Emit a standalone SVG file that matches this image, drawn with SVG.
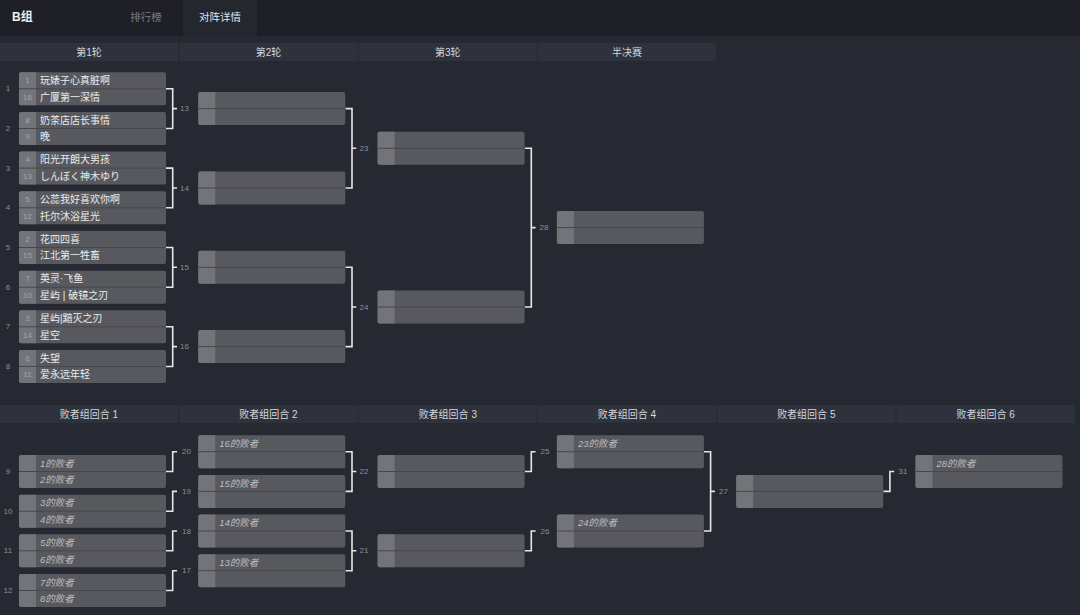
<svg xmlns="http://www.w3.org/2000/svg" width="1080" height="615" viewBox="0 0 1080 615">
<style>
text{font-family:"Liberation Sans","Noto Sans CJK SC",sans-serif}
.hd{fill:#2e323d}
.ht{fill:#d6d7db;font-size:10px;text-anchor:middle;dominant-baseline:central}
.slot{fill:#58595e}
.seed{fill:#737479}
.div{stroke:#46474c;stroke-width:1}
.sn{fill:#a4a5aa;font-size:8px;text-anchor:middle;dominant-baseline:central}
.nm{fill:#ececec;font-size:10px;dominant-baseline:central}
.ls{fill:#bdbec2;font-size:9.5px;font-style:italic;dominant-baseline:central}
.ml{fill:#8c8e96;font-size:8px;dominant-baseline:central}
.mlc{fill:#8c8e96;font-size:8px;text-anchor:middle;dominant-baseline:central}
.con{fill:none;stroke:#e6e6e6;stroke-width:1.6}
</style>
<defs>
<g id="box">
<rect x="0" y="0" width="147" height="33" rx="2" class="slot"/>
<path d="M2 0H17V33H2A2 2 0 0 1 0 31V2A2 2 0 0 1 2 0Z" class="seed"/>
<line x1="0" y1="16.5" x2="147" y2="16.5" class="div"/>
</g>
</defs>
<rect width="1080" height="615" fill="#262932"/>
<rect width="1080" height="36" fill="#1f2027"/>
<rect x="183" y="0" width="74" height="36" fill="#25272e"/>
<text x="12" y="17" fill="#f0f0f0" font-size="12" font-weight="bold" dominant-baseline="central">B组</text>
<text x="146" y="17" fill="#7a7b80" font-size="10.5" text-anchor="middle" dominant-baseline="central">排行榜</text>
<text x="220" y="17" fill="#e2e2e4" font-size="10.5" text-anchor="middle" dominant-baseline="central">对阵详情</text>

<g id="headers-upper">
<rect class="hd" x="0" y="43" width="178.3" height="18"/><text class="ht" x="89" y="52">第1轮</text>
<rect class="hd" x="179.3" y="43" width="178.3" height="18"/><text class="ht" x="268.5" y="52">第2轮</text>
<rect class="hd" x="358.6" y="43" width="178.3" height="18"/><text class="ht" x="447.8" y="52">第3轮</text>
<rect class="hd" x="537.9" y="43" width="178.3" height="18"/><text class="ht" x="627" y="52">半决赛</text>
</g>
<g id="headers-lower">
<rect class="hd" x="0" y="405" width="178.3" height="18"/><text class="ht" x="89" y="414">败者组回合 1</text>
<rect class="hd" x="179.3" y="405" width="178.3" height="18"/><text class="ht" x="268.5" y="414">败者组回合 2</text>
<rect class="hd" x="358.6" y="405" width="178.3" height="18"/><text class="ht" x="447.8" y="414">败者组回合 3</text>
<rect class="hd" x="537.9" y="405" width="178.3" height="18"/><text class="ht" x="627" y="414">败者组回合 4</text>
<rect class="hd" x="717.2" y="405" width="178.3" height="18"/><text class="ht" x="806.3" y="414">败者组回合 5</text>
<rect class="hd" x="896.5" y="405" width="178.3" height="18"/><text class="ht" x="985.6" y="414">败者组回合 6</text>
</g>

<g id="connectors">
<!-- upper R1 -> R2 -->
<path class="con" d="M166 88.8H172.7V128.5H166M172.7 108.6H177"/>
<path class="con" d="M166 168.1H172.7V207.8H166M172.7 188H177"/>
<path class="con" d="M166 247.5H172.7V287.2H166M172.7 267.3H177"/>
<path class="con" d="M166 326.8H172.7V366.5H166M172.7 346.6H177"/>
<!-- R2 -> R3 -->
<path class="con" d="M345.3 108.6H352V188H345.3M352 148.3H356.3"/>
<path class="con" d="M345.3 267.3H352V346.6H345.3M352 307H356.3"/>
<!-- R3 -> Semi -->
<path class="con" d="M524.6 148.3H531.3V307H524.6M531.3 227.6H535.6"/>
<!-- lower L1 -> L2 elbows -->
<path class="con" d="M166 471.5H172.7V451.7H177"/>
<path class="con" d="M166 511.2H172.7V491.4H177"/>
<path class="con" d="M166 550.8H172.7V531H177"/>
<path class="con" d="M166 590.5H172.7V570.7H177"/>
<!-- L2 -> L3 -->
<path class="con" d="M345.3 451.7H352V491.4H345.3M352 471.5H356.3"/>
<path class="con" d="M345.3 531H352V570.7H345.3M352 550.8H356.3"/>
<!-- L3 -> L4 elbows -->
<path class="con" d="M524.6 471.5H531.3V451.7H535.6"/>
<path class="con" d="M524.6 550.8H531.3V531H535.6"/>
<!-- L4 -> L5 -->
<path class="con" d="M703.9 451.7H710.6V531H703.9M710.6 491.4H714.9"/>
<!-- L5 -> L6 elbow -->
<path class="con" d="M883.2 491.4H889.9V471.5H894.2"/>
</g>

<g id="match-labels">
<text class="mlc" x="8" y="88.8">1</text>
<text class="mlc" x="8" y="128.5">2</text>
<text class="mlc" x="8" y="168.1">3</text>
<text class="mlc" x="8" y="207.8">4</text>
<text class="mlc" x="8" y="247.5">5</text>
<text class="mlc" x="8" y="287.2">6</text>
<text class="mlc" x="8" y="326.8">7</text>
<text class="mlc" x="8" y="366.5">8</text>
<text class="ml" x="180" y="108.6">13</text>
<text class="ml" x="180" y="188">14</text>
<text class="ml" x="180" y="267.3">15</text>
<text class="ml" x="180" y="346.6">16</text>
<text class="ml" x="359.5" y="148.3">23</text>
<text class="ml" x="359.5" y="307">24</text>
<text class="ml" x="539.5" y="227.6">28</text>
<text class="mlc" x="8" y="471.5">9</text>
<text class="mlc" x="8" y="511.2">10</text>
<text class="mlc" x="8" y="550.8">11</text>
<text class="mlc" x="8" y="590.5">12</text>
<text class="ml" x="182" y="451.7">20</text>
<text class="ml" x="182" y="491.4">19</text>
<text class="ml" x="182" y="531">18</text>
<text class="ml" x="182" y="570.7">17</text>
<text class="ml" x="359.5" y="471.5">22</text>
<text class="ml" x="359.5" y="550.8">21</text>
<text class="ml" x="540.5" y="451.7">25</text>
<text class="ml" x="540.5" y="531">26</text>
<text class="ml" x="719" y="491.4">27</text>
<text class="ml" x="898.5" y="471.5">31</text>
</g>

<g id="m1" transform="translate(19,72.3)"><use href="#box"/><text class="sn" x="8.5" y="8.25">1</text><text class="sn" x="8.5" y="24.75">16</text><text class="nm" x="21" y="8.25">玩婊子心真脏啊</text><text class="nm" x="21" y="24.75">广厦第一深情</text></g>
<g id="m2" transform="translate(19,112)"><use href="#box"/><text class="sn" x="8.5" y="8.25">8</text><text class="sn" x="8.5" y="24.75">9</text><text class="nm" x="21" y="8.25">奶茶店店长事情</text><text class="nm" x="21" y="24.75">晚</text></g>
<g id="m3" transform="translate(19,151.6)"><use href="#box"/><text class="sn" x="8.5" y="8.25">4</text><text class="sn" x="8.5" y="24.75">13</text><text class="nm" x="21" y="8.25">阳光开朗大男孩</text><text class="nm" x="21" y="24.75">しんぼく神木ゆり</text></g>
<g id="m4" transform="translate(19,191.3)"><use href="#box"/><text class="sn" x="8.5" y="8.25">5</text><text class="sn" x="8.5" y="24.75">12</text><text class="nm" x="21" y="8.25">公蕊我好喜欢你啊</text><text class="nm" x="21" y="24.75">托尔沐浴星光</text></g>
<g id="m5" transform="translate(19,231)"><use href="#box"/><text class="sn" x="8.5" y="8.25">2</text><text class="sn" x="8.5" y="24.75">15</text><text class="nm" x="21" y="8.25">花四四喜</text><text class="nm" x="21" y="24.75">江北第一牲畜</text></g>
<g id="m6" transform="translate(19,270.7)"><use href="#box"/><text class="sn" x="8.5" y="8.25">7</text><text class="sn" x="8.5" y="24.75">10</text><text class="nm" x="21" y="8.25">英灵·飞鱼</text><text class="nm" x="21" y="24.75">星屿 | 破镜之刃</text></g>
<g id="m7" transform="translate(19,310.3)"><use href="#box"/><text class="sn" x="8.5" y="8.25">3</text><text class="sn" x="8.5" y="24.75">14</text><text class="nm" x="21" y="8.25">星屿|黯灭之刃</text><text class="nm" x="21" y="24.75">星空</text></g>
<g id="m8" transform="translate(19,350)"><use href="#box"/><text class="sn" x="8.5" y="8.25">6</text><text class="sn" x="8.5" y="24.75">11</text><text class="nm" x="21" y="8.25">失望</text><text class="nm" x="21" y="24.75">爱永远年轻</text></g>

<g id="m13" transform="translate(198.3,92.1)"><use href="#box"/></g>
<g id="m14" transform="translate(198.3,171.5)"><use href="#box"/></g>
<g id="m15" transform="translate(198.3,250.8)"><use href="#box"/></g>
<g id="m16" transform="translate(198.3,330.1)"><use href="#box"/></g>
<g id="m23" transform="translate(377.6,131.8)"><use href="#box"/></g>
<g id="m24" transform="translate(377.6,290.5)"><use href="#box"/></g>
<g id="m28" transform="translate(556.9,211.1)"><use href="#box"/></g>

<g id="m9" transform="translate(19,455)"><use href="#box"/><text class="ls" x="21" y="8.25">1的败者</text><text class="ls" x="21" y="24.75">2的败者</text></g>
<g id="m10" transform="translate(19,494.7)"><use href="#box"/><text class="ls" x="21" y="8.25">3的败者</text><text class="ls" x="21" y="24.75">4的败者</text></g>
<g id="m11" transform="translate(19,534.3)"><use href="#box"/><text class="ls" x="21" y="8.25">5的败者</text><text class="ls" x="21" y="24.75">6的败者</text></g>
<g id="m12" transform="translate(19,574)"><use href="#box"/><text class="ls" x="21" y="8.25">7的败者</text><text class="ls" x="21" y="24.75">8的败者</text></g>

<g id="m20" transform="translate(198.3,435.2)"><use href="#box"/><text class="ls" x="21" y="8.25">16的败者</text></g>
<g id="m19" transform="translate(198.3,474.9)"><use href="#box"/><text class="ls" x="21" y="8.25">15的败者</text></g>
<g id="m18" transform="translate(198.3,514.5)"><use href="#box"/><text class="ls" x="21" y="8.25">14的败者</text></g>
<g id="m17" transform="translate(198.3,554.2)"><use href="#box"/><text class="ls" x="21" y="8.25">13的败者</text></g>

<g id="m22" transform="translate(377.6,455)"><use href="#box"/></g>
<g id="m21" transform="translate(377.6,534.3)"><use href="#box"/></g>
<g id="m25" transform="translate(556.9,435.2)"><use href="#box"/><text class="ls" x="21" y="8.25">23的败者</text></g>
<g id="m26" transform="translate(556.9,514.5)"><use href="#box"/><text class="ls" x="21" y="8.25">24的败者</text></g>
<g id="m27" transform="translate(736.2,474.9)"><use href="#box"/></g>
<g id="m31" transform="translate(915.5,455)"><use href="#box"/><text class="ls" x="21" y="8.25">28的败者</text></g>
</svg>
